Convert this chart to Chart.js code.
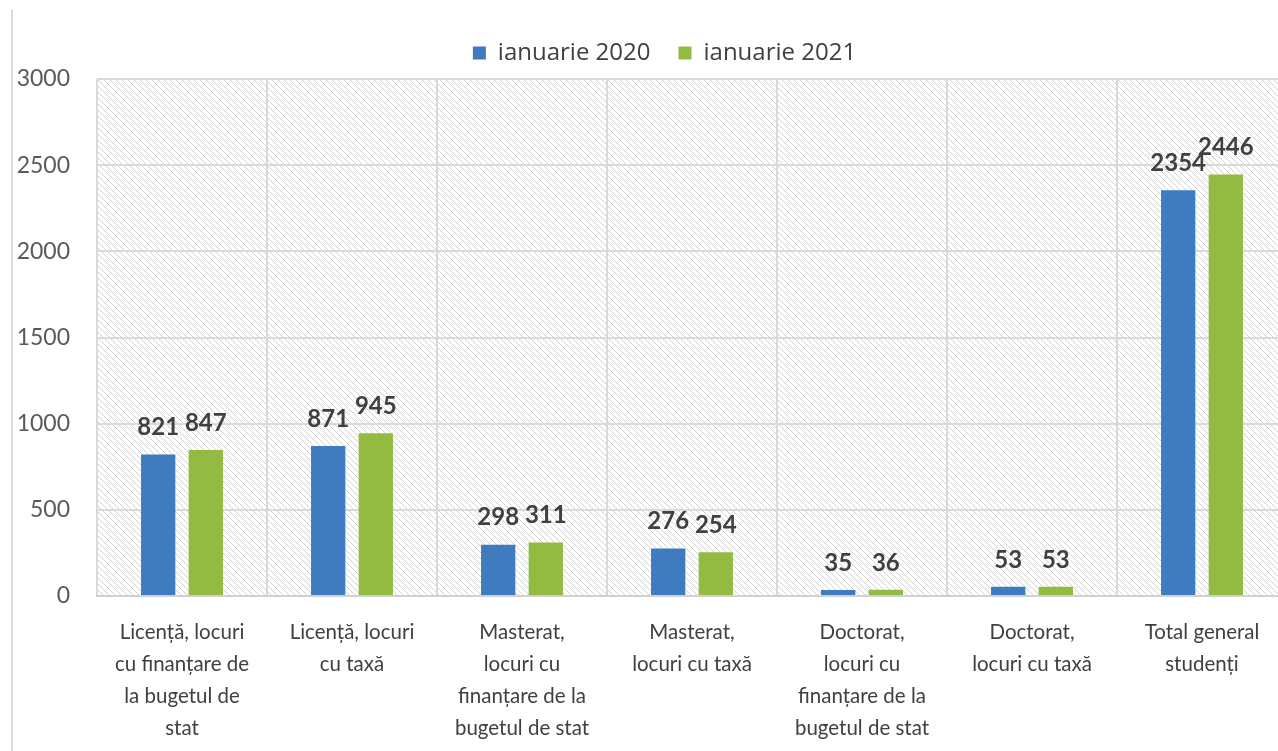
<!DOCTYPE html>
<html>
<head>
<meta charset="utf-8">
<script src="https://cdn.jsdelivr.net/npm/chart.js@4"></script>
<style>
html, body { margin: 0; padding: 0; background: #fff; overflow: hidden; }
#frame { position: absolute; left: 11px; top: 10px; width: 2px; height: 741px; background: #d9d9d9; }
#wrap { position: absolute; left: 0; top: 0; width: 1300px; height: 751px; }
</style>
</head>
<body>
<div id="frame"></div>
<div id="wrap"><canvas id="chart" width="1300" height="751"></canvas></div>
<script>
// Categories (multi-line as in the original)
const categories = [
    ['Licență, locuri', 'cu finanțare de', 'la bugetul de', 'stat'],
    ['Licență, locuri', 'cu taxă'],
    ['Masterat,', 'locuri cu', 'finanțare de la', 'bugetul de stat'],
    ['Masterat,', 'locuri cu taxă'],
    ['Doctorat,', 'locuri cu', 'finanțare de la', 'bugetul de stat'],
    ['Doctorat,', 'locuri cu taxă'],
    ['Total general', 'studenți']
];
const jan2020 = [821, 871, 298, 276, 35, 53, 2354];
const jan2021 = [847, 945, 311, 254, 36, 53, 2446];
const yTicks = [0, 500, 1000, 1500, 2000, 2500, 3000];

const FONT = 'Lato, "Open Sans", sans-serif';

// Diagonal hatch used as plot background
function makeHatch() {
    const s = 6;
    const c = document.createElement('canvas');
    c.width = s; c.height = s;
    const g = c.getContext('2d');
    g.fillStyle = '#ffffff';
    g.fillRect(0, 0, s, s);
    g.strokeStyle = '#d2d2d2';
    g.lineWidth = 1;
    g.beginPath();
    g.moveTo(0, 0); g.lineTo(s, s);
    g.moveTo(-1, s - 1); g.lineTo(1, s + 1);
    g.moveTo(s - 1, -1); g.lineTo(s + 1, 1);
    g.stroke();
    return g.createPattern(c, 'repeat');
}

const hatchBg = {
    id: 'hatchBg',
    beforeDraw(chart) {
        const { ctx, chartArea: a } = chart;
        ctx.save();
        ctx.fillStyle = makeHatch();
        ctx.fillRect(a.left, a.top, a.right - a.left, a.bottom - a.top);
        ctx.restore();
    }
};

// extra room under the legend, legend nudged right
const legendTweak = {
    id: 'legendTweak',
    beforeInit(chart) {
        const fit = chart.legend.fit;
        chart.legend.fit = function () {
            fit.bind(chart.legend)();
            this.height += 4;
        };
    },
    afterLayout(chart) {
        chart.legend.left += 42;
    }
};

const valueLabels = {
    id: 'valueLabels',
    afterDatasetsDraw(chart) {
        const ctx = chart.ctx;
        ctx.save();
        ctx.font = 'bold 24px ' + FONT;
        ctx.fillStyle = '#404040';
        ctx.textAlign = 'center';
        ctx.textBaseline = 'bottom';
        chart.data.datasets.forEach((ds, i) => {
            chart.getDatasetMeta(i).data.forEach((bar, j) => {
                ctx.fillText(ds.data[j], bar.x, bar.y - 15);
            });
        });
        ctx.restore();
    }
};

const ctx = document.getElementById('chart').getContext('2d');
new Chart(ctx, {
    type: 'bar',
    data: {
        labels: categories,
        datasets: [
            { label: 'ianuarie 2020', data: jan2020, backgroundColor: '#3e7bbf' },
            { label: 'ianuarie 2021', data: jan2021, backgroundColor: '#93bb42' }
        ]
    },
    options: {
        responsive: false,
        animation: false,
        categoryPercentage: 0.56,
        barPercentage: 0.72,
        layout: { padding: { top: 13, right: 13, left: 0, bottom: 0 } },
        plugins: {
            legend: {
                position: 'top',
                labels: {
                    boxWidth: 13,
                    boxHeight: 13,
                    padding: 28,
                    color: '#404040',
                    font: { family: '"Open Sans", sans-serif', size: 24 }
                }
            },
            tooltip: { enabled: false }
        },
        scales: {
            x: {
                grid: { color: '#d9d9d9', lineWidth: 2, drawTicks: false },
                border: { color: '#d0d0d0', width: 2 },
                ticks: {
                    color: '#404040',
                    padding: 20,
                    maxRotation: 0,
                    autoSkip: false,
                    font: { family: FONT, size: 20.5, lineHeight: 1.56 }
                },
                afterFit(scale) { scale.height = 155; }
            },
            y: {
                min: 0,
                max: 3000,
                afterBuildTicks(scale) { scale.ticks = yTicks.map(v => ({ value: v })); },
                grid: { color: '#d9d9d9', lineWidth: 2, drawTicks: false },
                border: { display: false },
                ticks: {
                    color: '#595959',
                    padding: 27,
                    callback: v => String(v),
                    font: { family: FONT, size: 23 }
                },
                afterFit(scale) { scale.width = 97; }
            }
        }
    },
    plugins: [hatchBg, legendTweak, valueLabels]
});
</script>
</body>
</html>
